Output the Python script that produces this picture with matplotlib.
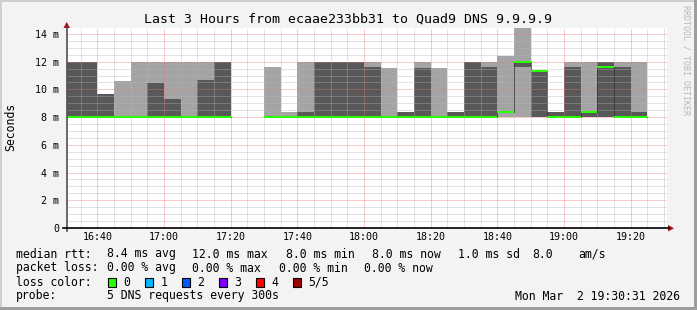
import numpy as np
import matplotlib.pyplot as plt
from matplotlib.patches import Rectangle, Polygon

W, H = 697, 310

# 5-minute steps (start time), five DNS pings per step, sorted low -> high, in ms
slots = ['16:30', '16:35', '16:40', '16:45', '16:50', '16:55', '17:00', '17:05', '17:10', '17:15',
         '17:20', '17:25', '17:30', '17:35', '17:40', '17:45', '17:50', '17:55', '18:00', '18:05',
         '18:10', '18:15', '18:20', '18:25', '18:30', '18:35', '18:40', '18:45', '18:50', '18:55',
         '19:00', '19:05', '19:10', '19:15', '19:20']
nan = float('nan')
ping1 = [8.0, 8.0, 8.0, 8.0, 8.0, 8.0, 8.0, 8.0, 8.0, 8.0,
         nan, nan, 8.0, 8.0, 8.0, 8.0, 8.0, 8.0, 8.0, 8.0,
         8.0, 8.0, 8.0, 8.0, 8.0, 8.0, 8.0, 8.0, 8.0, 8.0,
         8.0, 8.0, 8.0, 8.0, 8.0]
ping2 = [8.0, 8.0, 8.0, 8.0, 8.0, 8.0, 8.0, 8.0, 8.0, 8.0,
         nan, nan, 8.0, 8.0, 8.0, 8.0, 8.0, 8.0, 8.0, 8.0,
         8.0, 8.0, 8.0, 8.0, 8.0, 8.0, 8.4, 11.6, 8.0, 8.0,
         8.0, 8.0, 8.0, 8.0, 8.0]
median = [8.0, 8.0, 8.0, 8.0, 8.0, 8.0, 8.0, 8.0, 8.0, 8.0,
          nan, nan, 8.0, 8.0, 8.0, 8.0, 8.0, 8.0, 8.0, 8.0,
          8.0, 8.0, 8.0, 8.0, 8.0, 8.0, 8.4, 12.0, 11.35, 8.0,
          8.0, 8.4, 11.6, 8.0, 8.0]
ping4 = [12.0, 12.0, 9.67, 8.0, 8.0, 10.46, 9.3, 8.0, 10.7, 12.0,
         nan, nan, 8.0, 8.0, 8.37, 12.0, 12.0, 12.0, 11.6, 8.0,
         8.37, 11.55, 8.0, 8.37, 12.0, 11.6, 8.4, 12.0, 11.35, 8.37,
         11.6, 8.4, 12.0, 11.6, 8.37]
ping5 = [12.0, 12.0, 9.67, 10.6, 12.0, 12.0, 12.0, 12.0, 12.0, 12.0,
         nan, nan, 11.62, 8.37, 12.0, 12.0, 12.0, 12.0, 12.0, 11.55,
         8.37, 12.0, 11.55, 8.37, 12.0, 12.0, 12.4, 14.43, 11.35, 8.37,
         12.0, 12.0, 12.0, 12.0, 12.0]

loss_labels = ['0', '1', '2', '3', '4', '5/5']
loss_colors = ['#26ff00', '#00b8ff', '#0059ff', '#7e00ff', '#ff0000', '#a00000']

ytick_vals = [0, 2, 4, 6, 8, 10, 12, 14]
xtick_labels = ['16:40', '17:00', '17:20', '17:40', '18:00', '18:20', '18:40', '19:00', '19:20']

rtt_items = ['median rtt:', '8.4 ms avg', '12.0 ms max', '8.0 ms min', '8.0 ms now',
             '1.0 ms sd', '8.0', 'am/s']
rtt_x = [16, 107, 192.4, 285.8, 372.4, 458, 532, 578.7]
loss_items = ['packet loss:', '0.00 % avg', '0.00 % max', '0.00 % min', '0.00 % now']
loss_x = [16, 107, 192.4, 278.7, 364.4]
probe_text = '5 DNS requests every 300s'
stamp = 'Mon Mar  2 19:30:31 2026'


def mins(s):
    h, m = s.split(':')
    return (int(h) - 16) * 60 + int(m)


t0 = np.array([mins(s) for s in slots], dtype=float)
p1 = np.array(ping1); p2 = np.array(ping2); med = np.array(median)
p4 = np.array(ping4); p5 = np.array(ping5)

mono = 'DejaVu Sans Mono'
fig = plt.figure(figsize=(W / 100, H / 100), dpi=100)
fig.patch.set_facecolor('#f3f3f3')

# 3d-ish border
fig.patches.append(Rectangle((0, 1 - 2 / H), 1, 2 / H, transform=fig.transFigure, color='#cfcfcf', lw=0))
fig.patches.append(Rectangle((0, 0), 2 / W, 1, transform=fig.transFigure, color='#cfcfcf', lw=0))
fig.patches.append(Rectangle((0, 0), 1, 3 / H, transform=fig.transFigure, color='#9e9e9e', lw=0))
fig.patches.append(Rectangle((1 - 3 / W, 0), 3 / W, 1, transform=fig.transFigure, color='#9e9e9e', lw=0))

x0, x1, ytop, ybot = 66.7, 666.7, 28, 228
ax = fig.add_axes([x0 / W, 1 - ybot / H, (x1 - x0) / W, (ybot - ytop) / H])
ax.set_facecolor('white')
xmin = 30 + 49 / 60
ax.set_xlim(xmin, xmin + 180)
ax.set_ylim(0, 14.43)

# smoke: outer pair light, inner pair dark
ax.bar(t0, p5 - p1, bottom=p1, width=5, align='edge', color='#a4a4a4', lw=0, zorder=1)
ax.bar(t0, p4 - p2, bottom=p2, width=5, align='edge', color='#585858', lw=0, zorder=1.1)

# grid
dot = (0, (1, 1))
gcol, mcol = '#b4b4b4', '#f07878'
for v in np.arange(0.5, 14.5, 0.5):
    if v % 2:
        ax.axhline(v, color=gcol, lw=0.72, ls=dot, alpha=0.75, zorder=2)
for v in ytick_vals[1:]:
    ax.axhline(v, color=mcol, lw=0.72, ls=dot, alpha=0.75, zorder=2.1)
for m in range(35, 215, 5):
    if m % 20:
        ax.axvline(m, color=gcol, lw=0.72, ls=dot, alpha=0.75, zorder=2)
xt = [mins(s) for s in xtick_labels]
for m in xt:
    ax.axvline(m, color=mcol, lw=0.72, ls=dot, alpha=0.75, zorder=2.1)

# median step line and green median band
xs = np.append(t0, t0[-1] + 5)
ys = np.append(med, med[-1])
ax.step(xs, ys, where='post', color='black', lw=0.72, ls=dot, zorder=3)
band = 2 * 14.43 / 200
ax.bar(t0, band, bottom=med - band / 2, width=5, align='edge', color=loss_colors[0], lw=0, zorder=4)

for s in ax.spines.values():
    s.set_visible(False)
ax.set_xticks(xt)
ax.set_xticklabels(xtick_labels, fontfamily=mono, fontsize=7.2)
ax.set_yticks(ytick_vals)
ax.set_yticklabels([('%d m' % v) if v else '0' for v in ytick_vals], fontfamily=mono, fontsize=7.2)
ax.tick_params(axis='x', length=0, pad=3.2)
ax.tick_params(axis='y', length=0, pad=5.3)

# axes lines and arrows (pixel coords on the figure)
def px(x, y):
    return (x / W, 1 - y / H)

fig.add_artist(plt.Line2D([px(66.7, 0)[0]] * 2, [px(0, 231)[1], px(0, 27)[1]], color='#505050', lw=1.2))
fig.add_artist(plt.Line2D([px(63, 0)[0], px(669, 0)[0]], [px(0, 228.3)[1]] * 2, color='black', lw=1.2))
fig.add_artist(Polygon([px(63.5, 28), px(70, 28), px(66.7, 22)], closed=True, color='#a01010', lw=0))
fig.add_artist(Polygon([px(668, 225), px(668, 231.5), px(674, 228.3)], closed=True, color='#a01010', lw=0))

fig.text(347.5 / W, 1 - 19 / H, 'Last 3 Hours from ecaae233bb31 to Quad9 DNS 9.9.9.9',
         fontfamily=mono, fontsize=9.5, ha='center', va='center')
fig.text(11 / W, 1 - 127 / H, 'Seconds', fontfamily=mono, fontsize=8.3, rotation=90,
         ha='center', va='center')
fig.text(686 / W, 1 - 5 / H, 'RRDTOOL / TOBI OETIKER', fontfamily=mono, fontsize=6,
         rotation=270, ha='center', va='top', color='#b8b8b8')

fs = 8.3
for txt, xp in zip(rtt_items, rtt_x):
    fig.text(xp / W, 1 - 254 / H, txt, fontfamily=mono, fontsize=fs, va='center')
for txt, xp in zip(loss_items, loss_x):
    fig.text(xp / W, 1 - 268 / H, txt, fontfamily=mono, fontsize=fs, va='center')
fig.text(16 / W, 1 - 282 / H, 'loss color:', fontfamily=mono, fontsize=fs, va='center')
for i, (lab, col) in enumerate(zip(loss_labels, loss_colors)):
    bx = 108.3 + i * 37
    fig.patches.append(Rectangle((bx / W, 1 - 286.7 / H), 8 / W, 8.4 / H, transform=fig.transFigure,
                                 facecolor=col, edgecolor='black', lw=0.8))
    fig.text((bx + 15) / W, 1 - 282 / H, lab, fontfamily=mono, fontsize=fs, va='center')
fig.text(16 / W, 1 - 296 / H, 'probe:', fontfamily=mono, fontsize=fs, va='center')
fig.text(107 / W, 1 - 296 / H, probe_text, fontfamily=mono, fontsize=fs, va='center')
fig.text(680 / W, 1 - 296 / H, stamp, fontfamily=mono, fontsize=fs, va='center', ha='right')

fig.savefig('out.png', dpi=100, facecolor=fig.get_facecolor())
